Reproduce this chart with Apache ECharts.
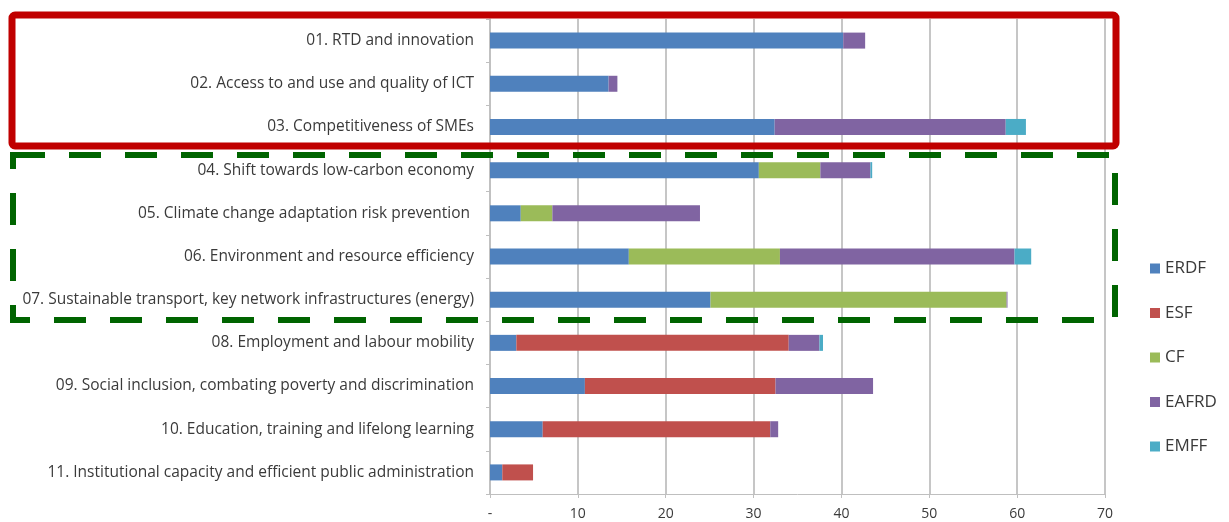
<!DOCTYPE html>
<html>
<head>
<meta charset="utf-8">
<script src="https://cdn.jsdelivr.net/npm/echarts@6/dist/echarts.min.js"></script>
<style>
  html, body { margin: 0; padding: 0; background: #fff; }
  #chart { width: 1229px; height: 522px; }
</style>
</head>
<body>
<div id="chart"></div>
<script>
// thematic objectives, top to bottom
const categories = [
  '01. RTD and innovation',
  '02. Access to and use and quality of ICT',
  '03. Competitiveness of SMEs',
  '04. Shift towards low-carbon economy',
  '05. Climate change adaptation risk prevention ',
  '06. Environment and resource efficiency',
  '07. Sustainable transport, key network infrastructures (energy)',
  '08. Employment and labour mobility',
  '09. Social inclusion, combating poverty and discrimination',
  '10. Education, training and lifelong learning',
  '11. Institutional capacity and efficient public administration'
];

// funds
const erdf  = [40.2, 13.5, 32.4, 30.6, 3.5, 15.8, 25.1, 3.0, 10.8, 6.0, 1.4];
const esf   = [0, 0, 0, 0, 0, 0, 0, 31.0, 21.7, 25.9, 3.5];
const cf    = [0, 0, 0, 7.0, 3.6, 17.2, 33.7, 0, 0, 0, 0];
const eafrd = [2.5, 1.0, 26.3, 5.7, 16.8, 26.7, 0.1, 3.5, 11.1, 0.9, 0];
const emff  = [0, 0, 2.3, 0.2, 0, 1.9, 0, 0.4, 0, 0, 0];

const fundNames = ['ERDF', 'ESF', 'CF', 'EAFRD', 'EMFF'];
const fundColors = ['#4F81BD', '#C0504D', '#9BBB59', '#8064A2', '#4BACC6'];
const fundData = [erdf, esf, cf, eafrd, emff];

const chart = echarts.init(document.getElementById('chart'));
const textColor = '#3a3a3a';
const gridColor = '#c6c6c6';

chart.setOption({
  animation: false,
  textStyle: { fontFamily: 'Open Sans' },
  color: fundColors,
  grid: { left: 490, right: 124, top: 19, bottom: 28 },
  legend: {
    orient: 'vertical',
    left: 1145,
    top: 255,
    itemWidth: 10,
    itemHeight: 10,
    itemGap: 27.5,
    icon: 'rect',
    textStyle: { color: textColor, fontSize: 17, fontFamily: 'Open Sans' },
    data: fundNames
  },
  xAxis: {
    type: 'value',
    min: 0,
    max: 70,
    interval: 10,
    axisLine: { show: true, lineStyle: { color: '#bfbfbf', width: 1 } },
    axisTick: { show: true, length: 4, lineStyle: { color: '#bfbfbf' } },
    splitLine: { show: true, lineStyle: { color: gridColor, width: 2 } },
    axisLabel: {
      color: textColor,
      fontSize: 14,
      margin: 13,
      formatter: v => (v === 0 ? '-' : v)
    }
  },
  yAxis: {
    type: 'category',
    inverse: true,
    data: categories,
    axisLine: { show: true, lineStyle: { color: '#bfbfbf', width: 1.5 } },
    axisTick: { show: true, length: 4, lineStyle: { color: '#bfbfbf' } },
    axisLabel: { color: textColor, fontSize: 15.5, margin: 16 }
  },
  series: fundNames.map((name, i) => ({
    name,
    type: 'bar',
    stack: 'total',
    barWidth: 16,
    data: fundData[i]
  })),
  graphic: [
    {
      type: 'rect',
      shape: { x: 12, y: 15, width: 1104, height: 131, r: 3 },
      style: { fill: 'none', stroke: '#C00000', lineWidth: 7 },
      z: 100
    },
    {
      type: 'rect',
      shape: { x: 13, y: 155, width: 1102, height: 165 },
      style: {
        fill: 'none',
        stroke: '#006400',
        lineWidth: 6,
        lineDash: [32, 24]
      },
      z: 99
    }
  ]
});
</script>
</body>
</html>
